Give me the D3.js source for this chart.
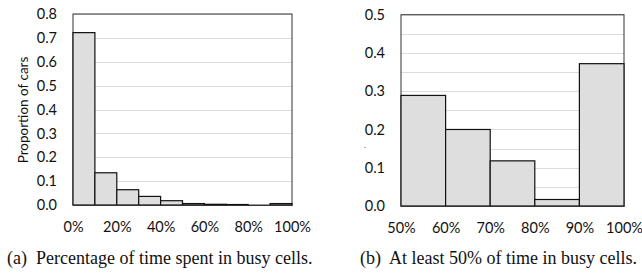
<!DOCTYPE html>
<html>
<meta charset="UTF-8">
<head>
    <script src="https://d3js.org/d3.v7.min.js"></script>
    <style>
        body { margin: 0; background: white; }
        .tick text { font-family: Lato, "Open Sans", sans-serif; font-size: 14.5px; fill: #111; }
        .caption { font-family: "Liberation Serif", "DejaVu Serif", serif; font-size: 18px; fill: #111; white-space: pre; }
    </style>
</head>
<body>
<svg id="chart" width="642" height="273"></svg>
<script>
    // left histogram: bins of 10%, 0%..100%
    const binsA = [0, 10, 20, 30, 40, 50, 60, 70, 80, 90];
    const valuesA = [0.722, 0.135, 0.064, 0.036, 0.018, 0.006, 0.003, 0.002, 0.0, 0.006];
    const xTicksA = [0, 20, 40, 60, 80, 100];
    const yTicksA = [0, 0.1, 0.2, 0.3, 0.4, 0.5, 0.6, 0.7, 0.8];

    // right histogram: 50%..100%
    const binsB = [50, 60, 70, 80, 90];
    const valuesB = [0.289, 0.2, 0.118, 0.017, 0.372];
    const xTicksB = [50, 60, 70, 80, 90, 100];
    const yTicksB = [0, 0.1, 0.2, 0.3, 0.4, 0.5];
    const gridB = d3.range(0, 0.51, 0.05);

    const svg = d3.select("svg#chart");

    function drawPanel(opt) {
        const x = d3.scaleLinear().domain(opt.xDomain).range([opt.left, opt.right]);
        const y = d3.scaleLinear().domain(opt.yDomain).range([opt.bottom, opt.top]);
        const g = svg.append("g");

        // grid lines
        g.append("g").selectAll("line")
            .data(opt.grid)
            .join("line")
            .attr("x1", opt.left).attr("x2", opt.right)
            .attr("y1", d => Math.round(y(d)) + 0.5).attr("y2", d => Math.round(y(d)) + 0.5)
            .attr("stroke", "#dcdcdc").attr("stroke-width", 1);

        // frame
        g.append("rect")
            .attr("x", opt.left).attr("y", y(opt.yDomain[1]))
            .attr("width", opt.right - opt.left).attr("height", opt.bottom - y(opt.yDomain[1]))
            .attr("fill", "none").attr("stroke", "#333").attr("stroke-width", 1);

        // bars
        g.append("g").selectAll("rect")
            .data(opt.bins.map((b, i) => ({b: b, v: opt.values[i]})))
            .join("rect")
            .attr("x", d => x(d.b))
            .attr("width", d => x(d.b + 10) - x(d.b))
            .attr("y", d => y(d.v))
            .attr("height", d => y(0) - y(d.v))
            .attr("fill", "#dedede")
            .attr("stroke", "#111")
            .attr("stroke-width", 1.2);

        // axes
        const yAxis = d3.axisLeft(y).tickValues(opt.yTicks).tickFormat(d3.format(".1f")).tickSize(0).tickPadding(16);
        g.append("g").attr("transform", `translate(${opt.left},0)`).call(yAxis)
            .call(s => s.select(".domain").remove());
        const xAxis = d3.axisBottom(x).tickValues(opt.xTicks).tickFormat(d => d + "%").tickSize(0).tickPadding(17);
        g.append("g").attr("transform", `translate(0,${opt.bottom})`).call(xAxis)
            .call(s => s.select(".domain").attr("stroke", "#333"));
        return g;
    }

    const gA = drawPanel({
        left: 73, right: 292, top: 14, bottom: 205,
        xDomain: [0, 100], yDomain: [0, 0.8],
        bins: binsA, values: valuesA, xTicks: xTicksA, yTicks: yTicksA,
        grid: yTicksA
    });
    gA.append("text")
        .attr("transform", "translate(28,110) rotate(-90)")
        .attr("text-anchor", "middle")
        .attr("font-family", "Lato, 'Open Sans', sans-serif")
        .attr("font-size", "13.5px")
        .attr("fill", "#111")
        .text("Proportion of cars");

    const gB = drawPanel({
        left: 401, right: 624, top: 14.7, bottom: 206,
        xDomain: [50, 100], yDomain: [0, 0.5],
        bins: binsB, values: valuesB, xTicks: xTicksB, yTicks: yTicksB,
        grid: gridB
    });
    gB.append("text")
        .attr("x", 364).attr("y", 148)
        .attr("font-family", "Lato, sans-serif")
        .attr("font-size", "8px")
        .attr("fill", "#444")
        .text(".");

    // captions
    svg.append("text").attr("class", "caption").attr("x", 7).attr("y", 264)
        .text("(a)  Percentage of time spent in busy cells.");
    svg.append("text").attr("class", "caption").attr("x", 360).attr("y", 264)
        .text("(b)  At least 50% of time in busy cells.");
</script>
</body>
</html>
